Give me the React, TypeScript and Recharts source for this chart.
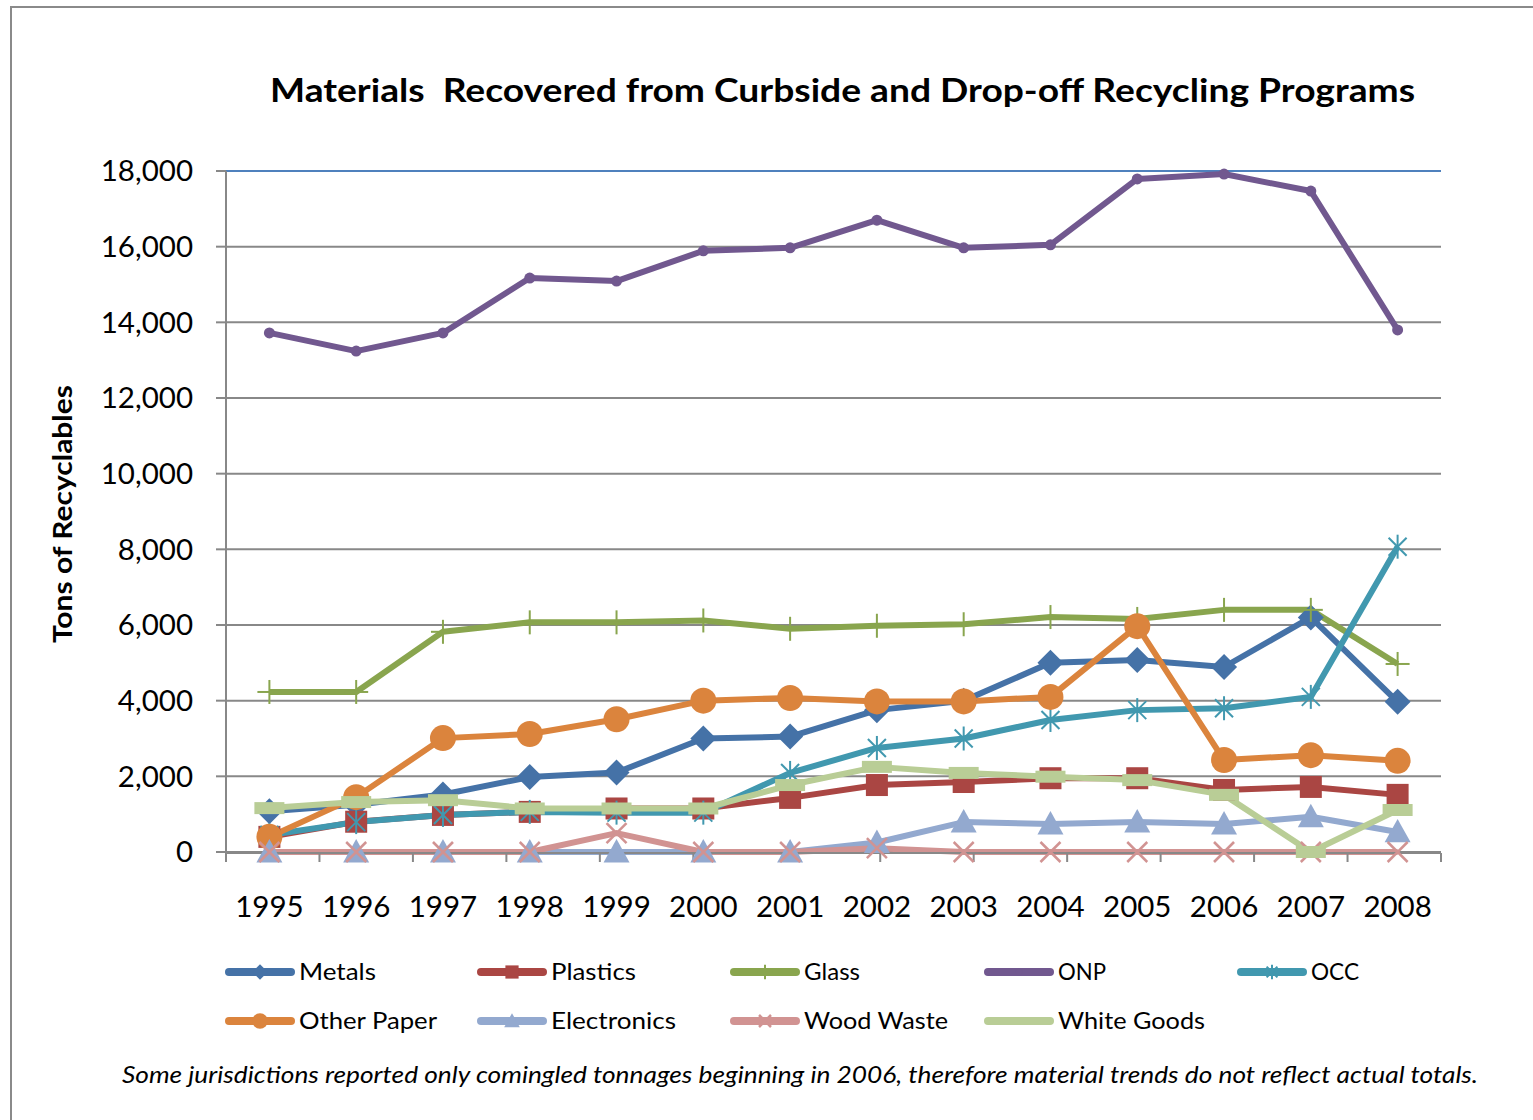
import React from 'react';
import { LineChart, Line, XAxis, YAxis, CartesianGrid, ReferenceLine } from 'recharts';

const years = ['1995','1996','1997','1998','1999','2000','2001','2002','2003','2004','2005','2006','2007','2008'];
const metals = [1080, 1250, 1520, 1980, 2100, 3000, 3050, 3750, 4000, 5000, 5075, 4890, 6200, 3970];
const plastics = [400, 800, 980, 1060, 1150, 1150, 1430, 1770, 1850, 1950, 1950, 1640, 1720, 1510];
const glass = [4230, 4230, 5820, 6070, 6070, 6120, 5900, 5980, 6020, 6210, 6160, 6400, 6400, 4970];
const onp = [13720, 13240, 13720, 15170, 15090, 15890, 15970, 16700, 15970, 16050, 17790, 17920, 17470, 13800];
const occ = [450, 790, 980, 1060, 1040, 1040, 2090, 2750, 3000, 3490, 3750, 3800, 4100, 8070];
const otherPaper = [400, 1450, 3010, 3120, 3510, 4000, 4070, 3980, 3980, 4100, 5970, 2430, 2560, 2410];
const electronics = [0, 0, 0, 0, 0, 0, 0, 250, 790, 740, 790, 740, 930, 530];
const woodWaste = [0, 0, 0, 0, 500, 0, 0, 100, 0, 0, 0, 0, 0, 0];
const whiteGoods = [1160, 1320, 1370, 1150, 1150, 1150, 1770, 2250, 2090, 1990, 1900, 1510, 0, 1110];
const yTicks = [0, 2000, 4000, 6000, 8000, 10000, 12000, 14000, 16000, 18000];
const boundaryTicks = [0, 1, 2, 3, 4, 5, 6, 7, 8, 9, 10, 11, 12, 13, 14];

const seriesDefs = [
  { key: 'Metals', values: metals, color: '#4572A7', marker: 'diamond' },
  { key: 'Plastics', values: plastics, color: '#AA4643', marker: 'square' },
  { key: 'Glass', values: glass, color: '#89A54E', marker: 'plus' },
  { key: 'ONP', values: onp, color: '#71588F', marker: 'dot' },
  { key: 'OCC', values: occ, color: '#4198AF', marker: 'star' },
  { key: 'Other Paper', values: otherPaper, color: '#DB843D', marker: 'circle' },
  { key: 'Electronics', values: electronics, color: '#93A9CF', marker: 'triangle' },
  { key: 'Wood Waste', values: woodWaste, color: '#D19392', marker: 'x' },
  { key: 'White Goods', values: whiteGoods, color: '#B9CD96', marker: 'dash' },
];

const data = years.map((y, i) => {
  const row: any = { year: y };
  seriesDefs.forEach((s) => { row[s.key] = s.values[i]; });
  return row;
});

const FONT = 'Lato, "Open Sans", sans-serif';

function Marker({ type, cx, cy, color, s = 1 }: any) {
  switch (type) {
    case 'diamond': {
      const r = 13 * s;
      return <polygon points={`${cx},${cy - r} ${cx + r},${cy} ${cx},${cy + r} ${cx - r},${cy}`} fill={color} />;
    }
    case 'square': {
      const r = 11 * s;
      return <rect x={cx - r} y={cy - r} width={2 * r} height={2 * r} fill={color} />;
    }
    case 'plus': {
      const r = 12 * s;
      return (
        <g stroke={color} strokeWidth={2}>
          <line x1={cx} y1={cy - r} x2={cx} y2={cy + r} />
          <line x1={cx - r} y1={cy} x2={cx + r} y2={cy} />
        </g>
      );
    }
    case 'dot':
      return <circle cx={cx} cy={cy} r={5.5 * s} fill={color} />;
    case 'circle':
      return <circle cx={cx} cy={cy} r={13 * s} fill={color} />;
    case 'star': {
      const r = 12 * s;
      const d = 9 * s;
      return (
        <g stroke={color} strokeWidth={2}>
          <line x1={cx} y1={cy - r} x2={cx} y2={cy + r} />
          <line x1={cx - d} y1={cy - d} x2={cx + d} y2={cy + d} />
          <line x1={cx - d} y1={cy + d} x2={cx + d} y2={cy - d} />
        </g>
      );
    }
    case 'triangle': {
      const r = 13 * s;
      return <polygon points={`${cx},${cy - r} ${cx + r},${cy + r * 0.8} ${cx - r},${cy + r * 0.8}`} fill={color} />;
    }
    case 'x': {
      const d = 10 * s;
      return (
        <g stroke={color} strokeWidth={2.5}>
          <line x1={cx - d} y1={cy - d} x2={cx + d} y2={cy + d} />
          <line x1={cx - d} y1={cy + d} x2={cx + d} y2={cy - d} />
        </g>
      );
    }
    case 'dash':
      return <rect x={cx - 15 * s} y={cy - 6 * s} width={30 * s} height={12 * s} fill={color} />;
    default:
      return null;
  }
}

const makeDot = (type: string, color: string) => (props: any) => {
  const { cx, cy, index } = props;
  if (cx == null || cy == null) return <g key={`d-${index}`} />;
  return (
    <g key={`d-${type}-${index}`}>
      <Marker type={type} cx={cx} cy={cy} color={color} />
    </g>
  );
};

const legendCols = [225, 477, 730, 984, 1237];
const legendRows = [972, 1021];
const legendTextWidths: Record<string, number> = {
  Metals: 77, Plastics: 85, Glass: 56, ONP: 48, OCC: 48,
  'Other Paper': 138, Electronics: 125, 'Wood Waste': 144, 'White Goods': 147,
};

export default function App() {
  return (
    <div style={{ position: 'absolute', left: 0, top: 0, width: 1533, height: 1120, overflow: 'hidden', background: '#fff' }}>
      <div style={{ position: 'absolute', left: 10, top: 6, width: 1600, height: 1200, border: '2px solid #8a8a8a', boxSizing: 'border-box' }} />
      <div style={{ position: 'absolute', left: 0, top: 0 }}>
        <LineChart width={1533} height={1120} data={data} margin={{ top: 171, right: 92, bottom: 200, left: 0 }}>
          <CartesianGrid vertical={false} stroke="#888888" strokeWidth={2} />
          <XAxis
            dataKey="year"
            scale="band"
            height={1}
            axisLine={false}
            tickLine={false}
            tickSize={0}
            tickMargin={44}
            interval={0}
            tick={{ fontFamily: FONT, fontSize: 29.5, fill: '#000' }}
          />
          <XAxis
            xAxisId="b"
            type="number"
            domain={[0, 14]}
            ticks={boundaryTicks}
            allowDataOverflow
            height={67}
            axisLine={{ stroke: '#888888', strokeWidth: 2 }}
            tickLine={{ stroke: '#888888', strokeWidth: 2 }}
            tickSize={9}
            tickFormatter={() => ''}
          />
          <YAxis
            width={226}
            domain={[0, 18000]}
            ticks={yTicks}
            interval={0}
            axisLine={{ stroke: '#888888', strokeWidth: 2 }}
            tickLine={{ stroke: '#888888', strokeWidth: 2 }}
            tickSize={10}
            tickMargin={23}
            tickFormatter={(v: number) => v.toLocaleString('en-US')}
            tick={{ fontFamily: FONT, fontSize: 29.5, fill: '#000' }}
          />
          <ReferenceLine y={18000} stroke="#4F81BD" strokeWidth={2} />
          <ReferenceLine xAxisId="b" x={14} stroke="#4F81BD" strokeWidth={2} />
          {seriesDefs.map((s) => (
            <Line
              key={s.key}
              dataKey={s.key}
              stroke={s.color}
              strokeWidth={6}
              strokeLinejoin="round"
              dot={makeDot(s.marker, s.color)}
              activeDot={false}
              isAnimationActive={false}
            />
          ))}
        </LineChart>
      </div>
      <svg width={1533} height={1120} style={{ position: 'absolute', left: 0, top: 0, pointerEvents: 'none' }}>
        <text x={270} y={102} fontFamily={FONT} fontWeight={700} fontSize={32} textLength={1145} lengthAdjust="spacingAndGlyphs" fill="#000" style={{ whiteSpace: 'pre' }}>
          {'Materials  Recovered from Curbside and Drop-off Recycling Programs'}
        </text>
        <text transform="translate(72,643) rotate(-90)" fontFamily={FONT} fontWeight={700} fontSize={27} textLength={258} lengthAdjust="spacingAndGlyphs" fill="#000">
          Tons of Recyclables
        </text>
        {seriesDefs.map((s, i) => {
          const x = legendCols[i % 5];
          const y = legendRows[Math.floor(i / 5)];
          return (
            <g key={s.key}>
              <line x1={x + 4} y1={y} x2={x + 66} y2={y} stroke={s.color} strokeWidth={8} strokeLinecap="round" />
              <Marker type={s.marker} cx={x + 35} cy={y} color={s.color} s={0.6} />
              <text x={x + 74} y={y + 8} fontFamily={FONT} fontSize={23} textLength={legendTextWidths[s.key]} lengthAdjust="spacingAndGlyphs" fill="#000">
                {s.key}
              </text>
            </g>
          );
        })}
        <text x={122} y={1083} fontFamily={FONT} fontStyle="italic" fontSize={23} textLength={1356} lengthAdjust="spacingAndGlyphs" fill="#000">
          Some jurisdictions reported only comingled tonnages beginning in 2006, therefore material trends do not reflect actual totals.
        </text>
      </svg>
    </div>
  );
}
